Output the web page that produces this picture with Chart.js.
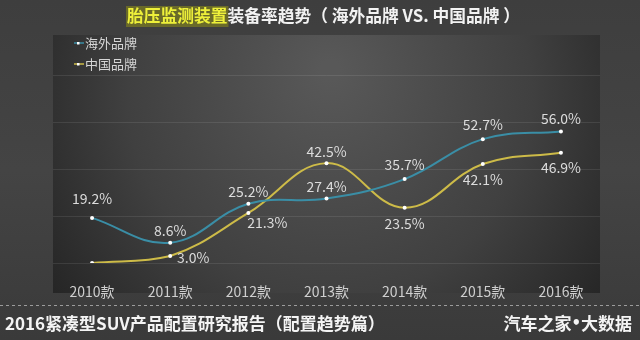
<!DOCTYPE html>
<html>
<head>
<meta charset="utf-8">
<script src="https://cdn.jsdelivr.net/npm/chart.js@4"></script>
<style>
  html, body { margin: 0; padding: 0; background: #3d3d3d; }
  canvas { display: block; }
</style>
</head>
<body>
<canvas id="tpms" width="640" height="340"></canvas>
<script>
const years = ['2010款', '2011款', '2012款', '2013款', '2014款', '2015款', '2016款'];
const foreignRate = [19.2, 8.6, 25.2, 27.4, 35.7, 52.7, 56.0];
const chinaRate = [0, 3.0, 21.3, 42.5, 23.5, 42.1, 46.9];
const foreignName = '海外品牌';
const chinaName = '中国品牌';
const yTicks = [0, 20, 40, 60, 80];

const cjk = '"Noto Sans CJK SC", "Noto Sans", sans-serif';

// where each value label sits relative to its point
const labelOffsets = [
    [[0, -19], [0, -12], [0, -12], [0, -12], [0, -14], [0, -14], [0, -13]],
    [null, [23, 2], [19, 10], [0, -11], [0, 16], [0, 16], [0, 15]]
];

// background, panel, title and footer
const frame = {
    id: 'frame',
    beforeDraw(chart) {
        const ctx = chart.ctx;
        ctx.save();
        let bg = ctx.createLinearGradient(0, 0, 0, 340);
        bg.addColorStop(0, '#3e3e3e');
        bg.addColorStop(0.5, '#444444');
        bg.addColorStop(1, '#3a3a3a');
        ctx.fillStyle = bg;
        ctx.fillRect(0, 0, 640, 340);

        let panel = ctx.createRadialGradient(330, 70, 10, 330, 110, 330);
        panel.addColorStop(0, '#585858');
        panel.addColorStop(0.6, '#404040');
        panel.addColorStop(1, '#262626');
        ctx.fillStyle = panel;
        ctx.fillRect(53, 35, 547, 258);

        // title
        ctx.font = 'bold 17px ' + cjk;
        ctx.textBaseline = 'middle';
        const hl = '胎压监测装置';
        const rest = '装备率趋势（ 海外品牌 VS. 中国品牌 ）';
        const w1 = ctx.measureText(hl).width;
        const w2 = ctx.measureText(rest).width;
        let x0 = 127;
        let scaleX = (520 - x0) / (w1 + w2);
        ctx.translate(x0, 0);
        ctx.scale(scaleX, 1);
        ctx.fillStyle = 'rgba(150,150,20,0.5)';
        ctx.fillRect(-1, 6, w1 + 2, 21);
        ctx.fillStyle = '#eef03a';
        ctx.textAlign = 'left';
        ctx.fillText(hl, 0, 16);
        ctx.fillStyle = '#f2f2f2';
        ctx.fillText(rest, w1, 16);
        ctx.setTransform(1, 0, 0, 1, 0, 0);

        // footer
        ctx.strokeStyle = 'rgba(220,220,220,0.6)';
        ctx.setLineDash([3, 3]);
        ctx.lineWidth = 1;
        ctx.beginPath();
        ctx.moveTo(0, 305.5);
        ctx.lineTo(640, 305.5);
        ctx.stroke();
        ctx.setLineDash([]);
        ctx.font = 'bold 17px ' + cjk;
        ctx.fillStyle = '#f4f4f4';
        ctx.fillText('2016紧凑型SUV产品配置研究报告（配置趋势篇）', 5, 324);
        ctx.textAlign = 'right';
        ctx.fillText('大数据', 632, 324);
        const wRight = ctx.measureText('大数据').width;
        ctx.font = 'bold 15px "DejaVu Sans"';
        ctx.fillText('•', 632 - wRight, 324);
        const wDot = ctx.measureText('•').width;
        ctx.font = 'bold 17px ' + cjk;
        ctx.fillText('汽车之家', 632 - wRight - wDot, 324);

        // legend
        ctx.textAlign = 'left';
        ctx.font = '13px ' + cjk;
        chart.data.datasets.forEach((ds, i) => {
            const y = 43 + i * 21;
            ctx.strokeStyle = ds.borderColor;
            ctx.lineWidth = 1.5;
            ctx.beginPath();
            ctx.moveTo(74, y);
            ctx.lineTo(84, y);
            ctx.stroke();
            ctx.fillStyle = '#ffffff';
            ctx.fillRect(77, y - 1, 2.5, 2.5);
            ctx.fillStyle = '#d6d6d6';
            ctx.fillText(ds.label, 85, y);
        });
        ctx.restore();
    }
};

const valueLabels = {
    id: 'valueLabels',
    afterDatasetsDraw(chart) {
        const ctx = chart.ctx;
        ctx.save();
        ctx.font = '14px ' + cjk;
        ctx.fillStyle = '#dcdcdc';
        ctx.textAlign = 'center';
        ctx.textBaseline = 'middle';
        chart.data.datasets.forEach((ds, i) => {
            chart.getDatasetMeta(i).data.forEach((pt, j) => {
                const off = labelOffsets[i][j];
                if (!off) return;
                ctx.fillText(ds.data[j].toFixed(1) + '%', pt.x + off[0], pt.y + off[1]);
            });
        });
        ctx.restore();
    }
};

new Chart(document.getElementById('tpms'), {
    type: 'line',
    data: {
        labels: years,
        datasets: [{
            label: foreignName,
            data: foreignRate,
            borderColor: '#3a8ea6',
            borderWidth: 2,
            tension: 0.4,
            pointRadius: 2,
            pointBackgroundColor: '#ffffff',
            pointBorderWidth: 0
        }, {
            label: chinaName,
            data: chinaRate,
            borderColor: '#cdbb48',
            borderWidth: 2,
            tension: 0.4,
            pointRadius: 2,
            pointBackgroundColor: '#ffffff',
            pointBorderWidth: 0
        }]
    },
    options: {
        responsive: false,
        animation: false,
        layout: { padding: { left: 53, right: 40, top: 75, bottom: 0 } },
        plugins: { legend: { display: false }, tooltip: { enabled: false } },
        scales: {
            x: {
                offset: true,
                grid: { display: false },
                border: { display: false },
                ticks: { color: '#cfcfcf', font: { size: 14, family: cjk }, padding: 12 },
                afterFit(scale) { scale.height = 77; }
            },
            y: {
                min: 0,
                max: 80,
                afterBuildTicks(scale) { scale.ticks = yTicks.map(v => ({ value: v })); },
                ticks: { display: false },
                grid: { color: 'rgba(255,255,255,0.09)', drawTicks: false },
                border: { display: false },
                afterFit(scale) { scale.width = 0; }
            }
        }
    },
    plugins: [frame, valueLabels]
});
</script>
</body>
</html>
